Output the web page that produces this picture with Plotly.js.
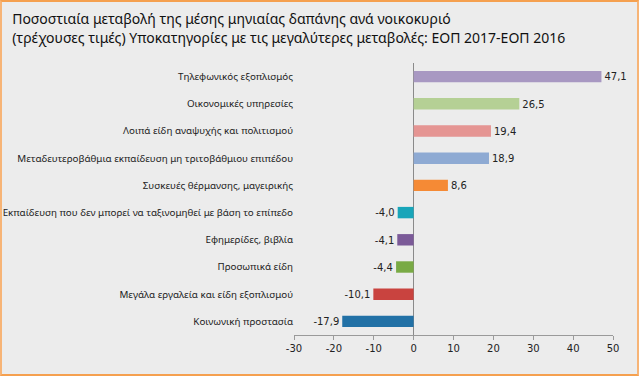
<!DOCTYPE html>
<html>
<head>
<meta charset="utf-8">
<script src="https://cdn.plot.ly/plotly-3.0.1.min.js"></script>
<style>
html,body{margin:0;padding:0;background:#ececec;}
#frame{width:635px;height:372px;border:2px solid #f7b476;border-top-color:#f5a04f;border-bottom-color:#f5a04f;}
#chart{width:635px;height:372px;}
</style>
</head>
<body>
<div id="frame"><div id="chart"></div></div>
<script>
const categories = [
  "Τηλεφωνικός εξοπλισμός",
  "Οικονομικές υπηρεσίες",
  "Λοιπά είδη αναψυχής και πολιτισμού",
  "Μεταδευτεροβάθμια εκπαίδευση μη τριτοβάθμιου επιπέδου",
  "Συσκευές θέρμανσης, μαγειρικής",
  "Εκπαίδευση που δεν μπορεί να ταξινομηθεί με βάση το επίπεδο",
  "Εφημερίδες, βιβλία",
  "Προσωπικά είδη",
  "Μεγάλα εργαλεία και είδη εξοπλισμού",
  "Κοινωνική προστασία"
];
const values = [47.1, 26.5, 19.4, 18.9, 8.6, -4.0, -4.1, -4.4, -10.1, -17.9];
const barColors = ["#a898c2","#b5d095","#e59593","#8eaad3","#f58a35","#18a5b9","#7b5a98","#79aa45","#c9433f","#2271a6"];
const xTicks = [-30,-20,-10,0,10,20,30,40,50];

const trace = {
  type: "bar",
  orientation: "h",
  y: categories,
  x: values,
  marker: {color: barColors},
  width: 0.42,
  texttemplate: "%{x:.1f}",
  textposition: "outside",
  cliponaxis: false,
  textfont: {family: "DejaVu Sans", size: 10.5, color: "#222"},
  hoverinfo: "none"
};

const layout = {
  width: 635, height: 372,
  paper_bgcolor: "#ececec",
  plot_bgcolor: "#ececec",
  separators: ",.",
  margin: {l: 292, r: 24, t: 61, b: 39},
  showlegend: false,
  title: {
    text: "Ποσοστιαία μεταβολή της μέσης μηνιαίας δαπάνης ανά νοικοκυριό<br>(τρέχουσες τιμές) Υποκατηγορίες με τις μεγαλύτερες μεταβολές: ΕΟΠ 2017-ΕΟΠ 2016",
    font: {family: "Noto Sans", size: 14, color: "#111"},
    x: 0.016, xref: "container", xanchor: "left",
    y: 0.94, yref: "container", yanchor: "bottom",
    pad: {l: 0, t: 0, b: 0}
  },
  xaxis: {
    range: [-30, 50],
    tickvals: xTicks,
    ticktext: xTicks.map(String),
    showgrid: false,
    zeroline: true, zerolinecolor: "#8a8a8a", zerolinewidth: 1,
    showline: true, linecolor: "#9a9a9a", linewidth: 1,
    ticks: "outside", ticklen: 4, tickcolor: "#9a9a9a",
    tickfont: {family: "DejaVu Sans", size: 10, color: "#222"},
    fixedrange: true
  },
  yaxis: {
    autorange: "reversed",
    showgrid: false, zeroline: false, showline: false,
    ticks: "", ticklabelstandoff: 0,
    tickfont: {family: "Noto Sans", size: 9.8, color: "#222"},
    fixedrange: true
  }
};

Plotly.newPlot("chart", [trace], layout, {displayModeBar: false, staticPlot: true});
</script>
</body>
</html>
